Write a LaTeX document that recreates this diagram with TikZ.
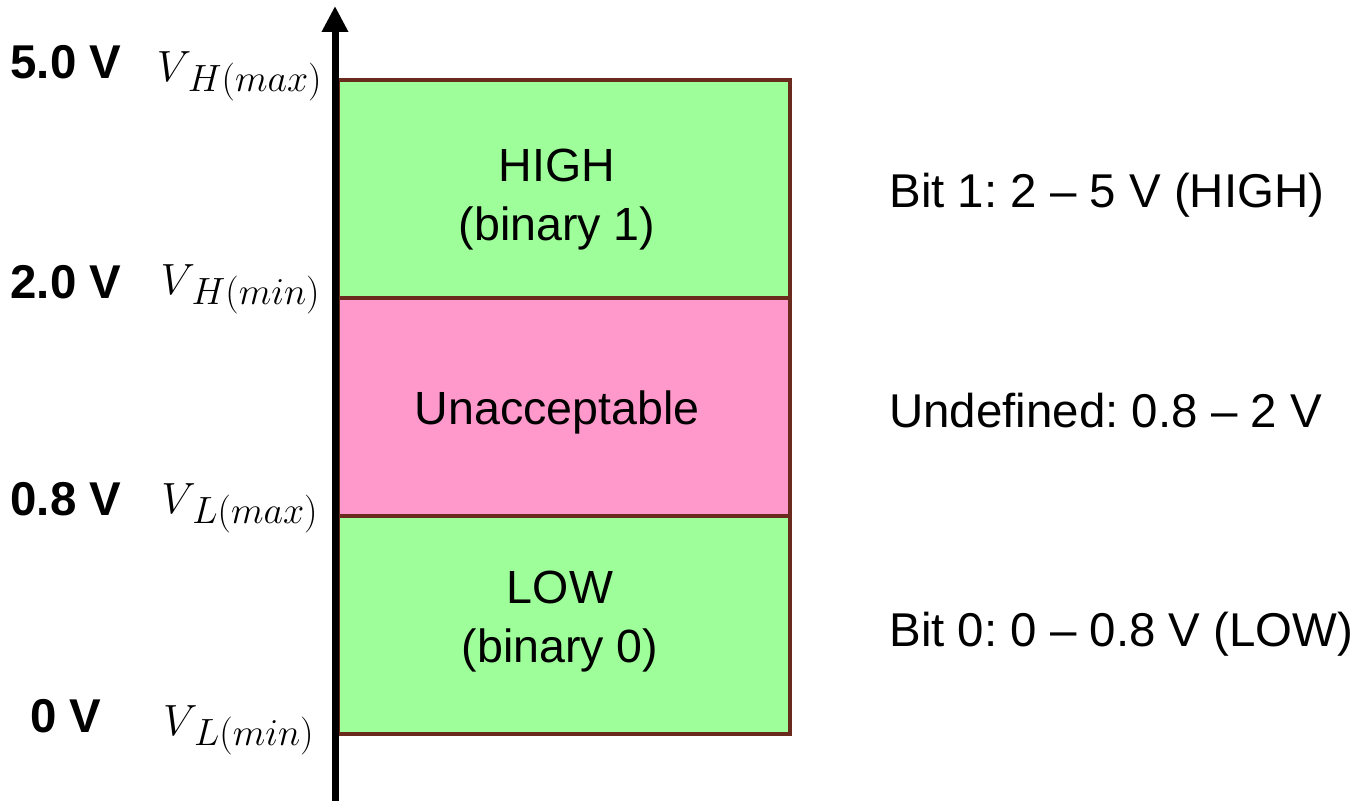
\documentclass[tikz,border=0pt]{standalone}
\usepackage{graphicx}
\usepackage{fontspec}
\setmainfont{Liberation Sans}
\usetikzlibrary{arrows.meta}
\definecolor{bandgreen}{HTML}{9EFF9A}
\definecolor{bandpink}{HTML}{FF99CC}
\definecolor{bandedge}{HTML}{6B2A1E}
\newcommand{\vsub}[2]{$V$\kern-2pt\raisebox{-6.2pt}{\scalebox{1.25}{\fontsize{19}{19}\selectfont$#1(#2)$}}}
\tikzset{
  band/.style={rectangle, draw=bandedge, line width=0.08cm, inner sep=0pt,
    minimum width=9.04cm, minimum height=4.36cm},
  bandtext/.style={anchor=base, align=center, inner sep=0pt,
    font=\fontsize{26.5}{33.5}\selectfont},
  volt/.style={anchor=base, font=\fontsize{27}{30}\selectfont\bfseries, inner sep=0pt},
  sym/.style={anchor=base east, font=\fontsize{25}{30}\selectfont, inner sep=0pt},
  note/.style={anchor=base west, font=\fontsize{27}{30}\selectfont, inner sep=0pt},
}
\frenchspacing
\begin{document}
\begin{tikzpicture}[x=0.02cm, y=-0.02cm]
\useasboundingbox (0,0) rectangle (1366,801);
\node[band, fill=bandgreen] (high) at (564,189) {};
\node[band, fill=bandpink] (undef) at (564,407) {};
\node[band, fill=bandgreen] (low) at (564,625) {};
\node[bandtext] (thigh) at (557,240) {HIGH\\(binary 1)};
\node[bandtext] (tundef) at (557,424) {Unacceptable};
\node[bandtext] (tlow) at (560,662) {LOW\\(binary 0)};
\coordinate (axb) at (335,801);
\coordinate (axt) at (335,6);
\draw[line width=0.14cm, -{Triangle[width=0.5cm,length=0.52cm]}] (axb) -- (axt);
\node[volt] (v5) at (66,78) {5.0 V};
\node[volt] (v2) at (66,298) {2.0 V};
\node[volt] (v08) at (66,515) {0.8 V};
\node[volt] (v0) at (66,732) {0 V};
\node[sym] (s1) at (322,81) {\vsub{H}{max}};
\node[sym] (s2) at (320,294) {\vsub{H}{min}};
\node[sym] (s3) at (318,513) {\vsub{L}{max}};
\node[sym] (s4) at (314,735) {\vsub{L}{min}};
\node[note] (n1) at (889,207) {Bit 1: 2 -- 5 V (HIGH)};
\node[note] (n2) at (889,427) {Undefined: 0.8 -- 2 V};
\node[note] (n3) at (889,646) {Bit 0: 0 -- 0.8 V (LOW)};
\end{tikzpicture}
\end{document}
